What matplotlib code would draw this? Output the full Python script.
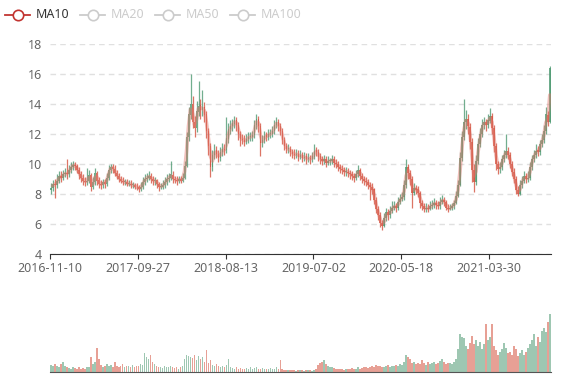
import numpy as np
import pandas as pd
import matplotlib.pyplot as plt
from matplotlib.lines import Line2D

plt.rcParams['font.family'] = ['Noto Sans', 'DejaVu Sans']

# weekly candles (~5 trading days each)
tick_dates = ['2016-11-10', '2017-09-27', '2018-08-13', '2019-07-02', '2020-05-18', '2021-03-30']
tick_days = [0, 220, 440, 660, 880, 1100]
legend_names = ['MA10', 'MA20', 'MA50', 'MA100']

opens = [
    8.3, 8.4, 8.7, 8.6, 8.9, 9.2, 9.1, 9.3, 9.4, 9.3,
    9.6, 9.8, 9.95, 9.9, 9.6, 9.3, 9.1, 8.9, 8.8, 8.9,
    9.3, 8.5, 8.8, 9.4, 8.9, 8.7, 8.6, 8.8, 8.7, 9.1,
    9.6, 9.8, 9.7, 9.4, 9.2, 9.0, 8.9, 8.8, 8.8, 8.7,
    8.7, 8.6, 8.6, 8.5, 8.45, 8.35, 8.5, 8.8, 9.0, 9.1,
    9.2, 9.0, 8.9, 8.9, 8.7, 8.5, 8.5, 8.6, 8.8, 9.0,
    9.1, 9.3, 9.0, 8.95, 8.9, 9.0, 8.9, 9.1, 9.9, 11.8,
    13.3, 14.0, 12.8, 12.4, 13.5, 13.9, 13.6, 13.8, 13.3, 12.2,
    11.2, 9.8, 10.6, 10.9, 10.7, 10.4, 10.8, 11.0, 10.9, 11.7,
    12.3, 12.5, 12.7, 12.9, 12.6, 12.0, 11.7, 11.6, 11.5, 11.7,
    11.8, 11.8, 11.9, 12.6, 13.0, 12.5, 11.4, 11.6, 11.9, 11.8,
    12.0, 12.0, 12.2, 12.6, 12.8, 12.5, 12.2, 11.6, 11.2, 11.0,
    11.0, 10.8, 10.7, 10.6, 10.7, 10.5, 10.6, 10.4, 10.5, 10.3,
    10.4, 10.3, 10.5, 10.9, 10.8, 10.5, 10.3, 10.2, 10.3, 10.1,
    10.2, 10.2, 10.3, 10.1, 10.0, 9.8, 9.7, 9.6, 9.5, 9.5,
    9.4, 9.3, 9.2, 9.1, 9.3, 9.6, 9.2, 9.0, 8.9, 8.8,
    8.6, 8.5, 8.3, 7.6, 7.0, 6.6, 6.1, 5.9, 6.4, 6.8,
    6.6, 6.9, 7.1, 7.2, 7.1, 7.5, 7.7, 7.8, 8.6, 9.8,
    9.4, 9.0, 8.1, 8.4, 8.3, 8.1, 7.4, 7.2, 7.0, 7.1,
    7.0, 7.2, 7.3, 7.4, 7.3, 7.2, 7.5, 7.6, 7.5, 7.1,
    7.0, 7.1, 7.2, 7.4, 7.9, 8.6, 10.4, 11.8, 12.8, 13.0,
    12.5, 11.5, 9.6, 8.8, 10.2, 11.3, 12.0, 12.6, 12.8, 12.6,
    12.9, 13.2, 12.4, 11.2, 10.0, 9.7, 9.8, 10.3, 10.6, 10.9,
    10.6, 10.0, 9.5, 9.0, 8.3, 8.0, 8.6, 8.9, 9.2, 9.0,
    9.1, 9.8, 10.3, 10.6, 10.9, 10.8, 11.3, 11.6, 12.2, 13.3,
    12.8,
]
closes = [
    8.4, 8.7, 8.6, 8.9, 9.2, 9.1, 9.3, 9.4, 9.3, 9.6,
    9.8, 9.95, 9.9, 9.6, 9.3, 9.1, 8.9, 8.8, 8.9, 9.3,
    8.5, 8.8, 9.4, 8.9, 8.7, 8.6, 8.8, 8.7, 9.1, 9.6,
    9.8, 9.7, 9.4, 9.2, 9.0, 8.9, 8.8, 8.8, 8.7, 8.7,
    8.6, 8.6, 8.5, 8.45, 8.35, 8.5, 8.8, 9.0, 9.1, 9.2,
    9.0, 8.9, 8.9, 8.7, 8.5, 8.5, 8.6, 8.8, 9.0, 9.1,
    9.3, 9.0, 8.95, 8.9, 9.0, 8.9, 9.1, 9.9, 11.8, 13.3,
    14.0, 12.8, 12.4, 13.5, 13.9, 13.6, 13.8, 13.3, 12.2, 11.2,
    9.8, 10.6, 10.9, 10.7, 10.4, 10.8, 11.0, 10.9, 11.7, 12.3,
    12.5, 12.7, 12.9, 12.6, 12.0, 11.7, 11.6, 11.5, 11.7, 11.8,
    11.8, 11.9, 12.6, 13.0, 12.5, 11.4, 11.6, 11.9, 11.8, 12.0,
    12.0, 12.2, 12.6, 12.8, 12.5, 12.2, 11.6, 11.2, 11.0, 11.0,
    10.8, 10.7, 10.6, 10.7, 10.5, 10.6, 10.4, 10.5, 10.3, 10.4,
    10.3, 10.5, 10.9, 10.8, 10.5, 10.3, 10.2, 10.3, 10.1, 10.2,
    10.2, 10.3, 10.1, 10.0, 9.8, 9.7, 9.6, 9.5, 9.5, 9.4,
    9.3, 9.2, 9.1, 9.3, 9.6, 9.2, 9.0, 8.9, 8.8, 8.6,
    8.5, 8.3, 7.6, 7.0, 6.6, 6.1, 5.9, 6.4, 6.8, 6.6,
    6.9, 7.1, 7.2, 7.1, 7.5, 7.7, 7.8, 8.6, 9.8, 9.4,
    9.0, 8.1, 8.4, 8.3, 8.1, 7.4, 7.2, 7.0, 7.1, 7.0,
    7.2, 7.3, 7.4, 7.3, 7.2, 7.5, 7.6, 7.5, 7.1, 7.0,
    7.1, 7.2, 7.4, 7.9, 8.6, 10.4, 11.8, 12.8, 13.0, 12.5,
    11.5, 9.6, 8.8, 10.2, 11.3, 12.0, 12.6, 12.8, 12.6, 12.9,
    13.2, 12.4, 11.2, 10.0, 9.7, 9.8, 10.3, 10.6, 10.9, 10.6,
    10.0, 9.5, 9.0, 8.3, 8.0, 8.6, 8.9, 9.2, 9.0, 9.1,
    9.8, 10.3, 10.6, 10.9, 10.8, 11.3, 11.6, 12.2, 13.3, 12.8,
    16.4,
]
highs = [
    8.7, 8.95, 9.0, 9.3, 9.5, 9.5, 9.6, 9.7, 10.35, 9.9,
    10.1, 10.2, 10.15, 10.0, 9.8, 9.5, 9.3, 9.1, 9.7, 9.6,
    9.4, 9.1, 9.7, 9.5, 9.1, 8.9, 9.0, 9.0, 9.4, 9.9,
    10.0, 10.0, 9.9, 9.6, 9.4, 9.2, 9.1, 9.0, 9.0, 8.9,
    8.9, 8.8, 8.7, 8.7, 8.6, 8.8, 9.1, 9.3, 9.4, 9.5,
    9.4, 9.2, 9.1, 9.0, 8.8, 8.7, 8.9, 9.1, 9.3, 9.4,
    10.2, 9.5, 9.2, 9.2, 9.2, 9.2, 9.4, 10.2, 12.1, 13.8,
    16.0, 14.5, 13.2, 14.2, 15.5, 14.3, 14.9, 14.1, 13.5, 12.4,
    11.4, 10.9, 11.3, 11.2, 10.9, 11.1, 11.4, 11.3, 13.1, 12.7,
    12.9, 13.0, 13.2, 13.1, 12.8, 12.2, 12.0, 11.9, 12.0, 12.1,
    12.1, 12.2, 12.9, 13.3, 13.2, 12.7, 11.9, 12.2, 12.1, 12.3,
    12.3, 12.5, 12.9, 13.1, 13.0, 12.7, 12.4, 11.8, 11.4, 11.3,
    11.2, 11.0, 11.0, 11.0, 10.9, 10.9, 10.8, 10.8, 10.7, 10.7,
    10.6, 10.8, 11.3, 11.1, 11.0, 10.7, 10.5, 10.6, 10.5, 10.5,
    10.4, 10.6, 10.5, 10.3, 10.2, 10.0, 9.9, 9.8, 9.8, 9.7,
    9.6, 9.5, 9.4, 9.6, 9.9, 9.7, 9.4, 9.2, 9.1, 9.0,
    8.8, 8.7, 8.4, 7.8, 7.2, 6.8, 6.3, 6.7, 7.1, 7.0,
    7.2, 7.5, 7.5, 7.4, 7.8, 8.0, 8.1, 8.9, 10.3, 10.0,
    9.6, 9.2, 8.7, 8.6, 8.5, 8.2, 7.6, 7.4, 7.4, 7.3,
    7.5, 7.6, 7.7, 7.6, 7.5, 7.8, 7.9, 7.8, 7.6, 7.3,
    7.3, 7.4, 7.6, 8.2, 8.9, 10.8, 12.2, 14.3, 13.6, 13.3,
    12.7, 11.7, 10.0, 10.6, 11.7, 12.4, 13.0, 13.1, 13.0, 13.3,
    13.7, 13.4, 12.6, 11.4, 10.2, 10.1, 10.6, 10.9, 12.0, 11.1,
    10.8, 10.2, 9.7, 9.2, 8.5, 8.9, 9.2, 9.5, 9.4, 9.5,
    10.1, 10.6, 10.9, 11.3, 11.2, 11.6, 12.0, 12.6, 13.8, 13.5,
    16.5,
]
lows = [
    8.0, 8.2, 7.7, 8.4, 8.7, 8.8, 8.9, 9.1, 9.0, 9.1,
    9.4, 9.6, 9.6, 9.4, 9.0, 8.8, 8.6, 8.5, 8.6, 8.7,
    8.2, 8.3, 8.6, 8.6, 8.4, 8.3, 8.4, 8.4, 8.5, 8.9,
    9.4, 9.4, 9.2, 9.0, 8.8, 8.7, 8.6, 8.6, 8.5, 8.5,
    8.4, 8.4, 8.3, 8.25, 8.1, 8.2, 8.3, 8.6, 8.8, 8.9,
    8.7, 8.6, 8.6, 8.4, 8.2, 8.3, 8.3, 8.4, 8.6, 8.8,
    8.9, 8.7, 8.7, 8.6, 8.7, 8.7, 8.8, 9.0, 9.8, 11.5,
    13.0, 12.4, 11.8, 12.1, 13.2, 13.0, 13.2, 12.8, 11.7, 10.6,
    9.1, 9.5, 10.3, 10.4, 10.1, 10.2, 10.5, 10.6, 10.7, 11.4,
    12.0, 12.2, 12.4, 12.2, 11.6, 11.2, 11.3, 11.2, 11.3, 11.4,
    11.5, 11.5, 11.7, 12.3, 12.1, 10.5, 11.1, 11.4, 11.5, 11.6,
    11.7, 11.8, 12.0, 12.4, 12.2, 11.9, 11.3, 10.9, 10.7, 10.7,
    10.5, 10.4, 10.3, 10.4, 10.2, 10.3, 10.1, 10.2, 10.0, 10.1,
    10.0, 10.1, 10.3, 10.5, 10.2, 10.0, 9.9, 10.0, 9.8, 9.9,
    9.9, 10.0, 9.8, 9.7, 9.5, 9.4, 9.3, 9.2, 9.2, 9.1,
    9.0, 8.9, 8.8, 8.9, 9.1, 8.9, 8.7, 8.6, 8.5, 8.3,
    7.6, 8.0, 7.3, 6.7, 6.3, 5.8, 5.6, 5.8, 6.2, 6.3,
    6.4, 6.7, 6.9, 6.8, 6.9, 7.3, 7.5, 7.6, 8.4, 9.0,
    8.6, 7.1, 7.9, 8.0, 7.8, 7.1, 6.9, 6.8, 6.8, 6.8,
    6.9, 7.0, 7.1, 7.0, 7.0, 7.0, 7.3, 7.2, 6.9, 6.8,
    6.9, 6.9, 7.0, 7.3, 7.8, 8.5, 10.2, 11.6, 12.3, 12.0,
    11.0, 8.8, 8.1, 8.6, 10.0, 11.1, 11.8, 12.3, 12.2, 12.4,
    12.7, 12.0, 10.8, 9.6, 9.3, 9.4, 9.6, 10.1, 10.4, 10.3,
    9.7, 9.2, 8.7, 8.0, 7.85, 7.9, 8.4, 8.7, 8.7, 8.8,
    8.9, 9.6, 10.1, 10.4, 10.5, 10.6, 11.1, 11.4, 12.0, 12.5,
    12.7,
]
volumes = [
    12, 10, 14, 11, 9, 13, 17, 10, 8, 7,
    6, 8, 7, 5, 9, 6, 7, 6, 8, 9,
    26, 14, 18, 41, 23, 12, 9, 11, 14, 10,
    12, 9, 17, 11, 8, 10, 13, 9, 11, 10,
    8, 12, 9, 11, 10, 14, 12, 33, 25, 22,
    30, 18, 14, 10, 8, 9, 7, 10, 8, 9,
    11, 8, 7, 9, 6, 8, 10, 22, 30, 28,
    26, 24, 30, 20, 27, 22, 26, 18, 37, 15,
    20, 12, 10, 14, 11, 9, 10, 8, 12, 23,
    9, 7, 6, 8, 5, 7, 6, 5, 7, 6,
    8, 6, 7, 9, 6, 5, 7, 6, 5, 6,
    7, 5, 6, 8, 6, 20, 5, 4, 3, 4,
    3, 4, 3, 2, 3, 4, 3, 2, 3, 4,
    3, 2, 4, 5, 12, 15, 18, 20, 13, 11,
    9, 8, 7, 6, 5, 6, 5, 4, 5, 6,
    5, 7, 6, 5, 8, 6, 7, 9, 8, 7,
    8, 10, 9, 12, 11, 10, 9, 8, 10, 12,
    9, 11, 10, 12, 11, 13, 12, 18, 29, 26,
    22, 15, 18, 14, 16, 13, 20, 15, 12, 17,
    14, 16, 18, 13, 15, 19, 22, 17, 14, 16,
    15, 13, 17, 22, 40, 65, 60, 58, 45, 40,
    50, 62, 48, 55, 45, 52, 40, 48, 83, 55,
    60, 83, 45, 38, 30, 35, 40, 50, 42, 32,
    35, 30, 45, 40, 28, 33, 38, 30, 35, 42,
    48, 55, 65, 45, 60, 52, 70, 75, 68, 85,
    100,
]

up_color = '#4f9a73'
down_color = '#d4523f'

o = np.array(opens)
c = np.array(closes)
h = np.array(highs)
l = np.array(lows)
days = np.arange(len(c)) * 5 + 2
cols = [up_color if cc >= oo else down_color for oo, cc in zip(o, c)]
ma10 = pd.Series(c).rolling(2).mean()

fig = plt.figure(figsize=(5.77, 3.8), dpi=100)
ax = fig.add_axes([50 / 577, 126 / 380, 501 / 577, 210 / 380])
axv = fig.add_axes([50 / 577, 8 / 380, 501 / 577, 67 / 380])

# candles
ax.vlines(days, l, h, colors=cols, lw=0.9, alpha=0.8, zorder=2)
body = np.maximum(np.abs(c - o), 0.05)
ax.bar(days, body, bottom=np.minimum(o, c), width=3.8, color=cols, alpha=0.8, lw=0, zorder=2)
ax.plot(days, ma10, color='#e0766b', lw=2.6, alpha=0.45, zorder=3, solid_capstyle='round')

ax.set_xlim(0, 1255)
ax.set_ylim(4, 18)
ax.set_yticks(range(4, 19, 2))
ax.set_xticks(tick_days)
ax.set_xticklabels(tick_dates)
ax.yaxis.grid(True, linestyle=(0, (4, 3)), color='#e0e0e0', lw=1)
ax.set_axisbelow(True)
for s in ['top', 'right', 'left']:
    ax.spines[s].set_visible(False)
ax.spines['bottom'].set_color('#333333')
ax.tick_params(axis='y', length=0, labelsize=9, colors='#666666', pad=6)
ax.tick_params(axis='x', length=3.6, color='#333333', labelsize=9, labelcolor='#666666', pad=2)

# volume
axv.bar(days, volumes, width=4.2, color=cols, alpha=0.55, lw=0)
axv.set_xlim(0, 1255)
axv.set_ylim(0, 115)
axv.set_xticks([])
axv.set_yticks([])
for s in ['top', 'right', 'left']:
    axv.spines[s].set_visible(False)
axv.spines['bottom'].set_color('#555555')

# legend (only MA10 active)
lx = [5, 80, 155, 230]
for k, name in enumerate(legend_names):
    col = '#c23531' if k == 0 else '#cccccc'
    tcol = '#333333' if k == 0 else '#cccccc'
    y = 1 - 15 / 380
    x0 = lx[k]
    fig.add_artist(Line2D([x0 / 577, (x0 + 25) / 577], [y, y], transform=fig.transFigure, color=col, lw=1.3))
    fig.add_artist(Line2D([(x0 + 12.5) / 577], [y], transform=fig.transFigure, marker='o', markersize=7.5,
                          markerfacecolor='white', markeredgecolor=col, markeredgewidth=1.2))
    fig.text((x0 + 31) / 577, y, name, color=tcol, fontsize=9, ha='left', va='center')

plt.savefig('out.png', dpi=100)
